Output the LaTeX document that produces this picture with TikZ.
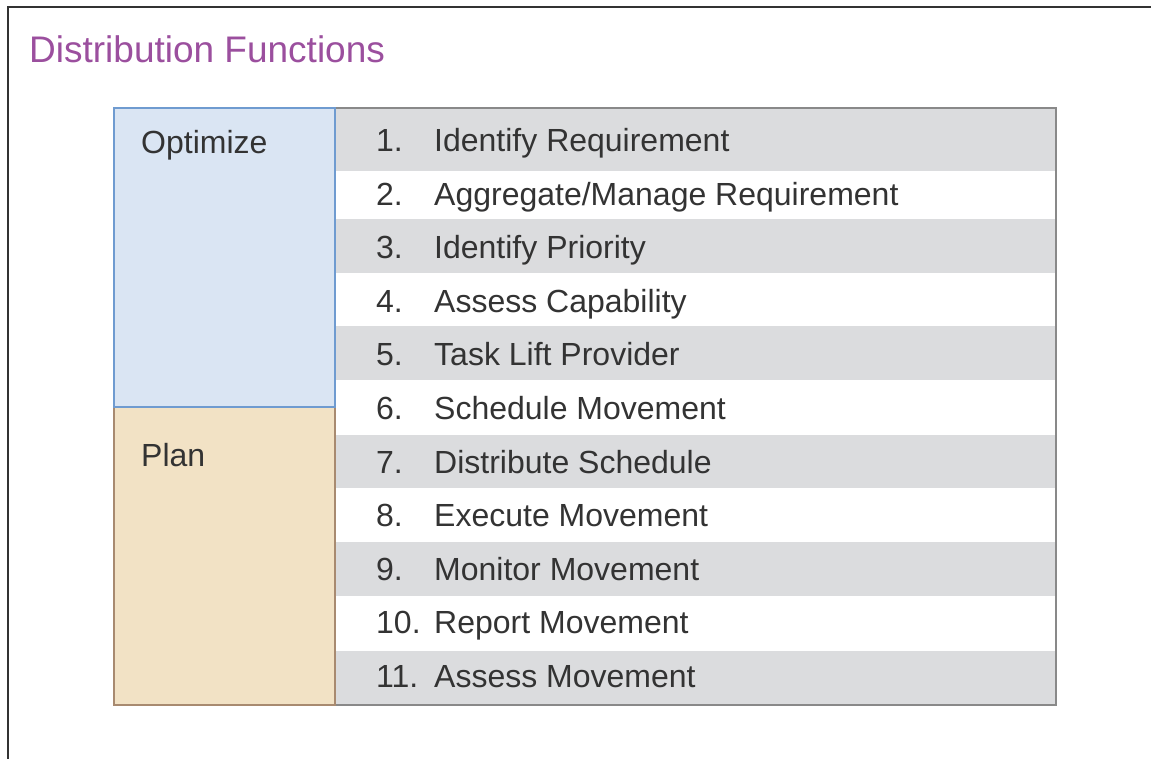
\documentclass[tikz,border=0pt]{standalone}
\usepackage{fontspec}
\setmainfont{Liberation Sans}

\definecolor{titlepurple}{RGB}{155,79,158}
\definecolor{textgray}{RGB}{51,51,51}
\definecolor{rowgray}{RGB}{219,220,222}
\definecolor{linegray}{RGB}{137,137,137}
\definecolor{optfill}{RGB}{218,229,243}
\definecolor{optline}{RGB}{111,155,208}
\definecolor{planfill}{RGB}{242,226,197}
\definecolor{planline}{RGB}{168,138,112}

\tikzset{
    rowtext/.style={anchor=base west, inner sep=0pt, text=textgray,
        font=\fontsize{32}{38}\selectfont},
    grayrow/.style={fill=rowgray, draw=none},
    phase/.style={anchor=base west, inner sep=0pt, text=textgray,
        font=\fontsize{32}{38}\selectfont}
}

\newcommand{\rownum}[1]{\makebox[58pt][l]{#1}}

\begin{document}
\begin{tikzpicture}[x=1pt,y=-1pt]
    \useasboundingbox (0,0) rectangle (1151,759);
    % frame
    \draw[textgray, line width=2.5pt] (8,759) -- (8,7) -- (1151,7);
    \node[anchor=base west, inner sep=0pt, text=titlepurple,
        font=\fontsize{37}{44}\selectfont] (title) at (29,63) {Distribution Functions};

    % shaded rows
    \fill[grayrow] (335,108) rectangle (1056,171);
    \fill[grayrow] (335,219) rectangle (1056,273);
    \fill[grayrow] (335,326) rectangle (1056,380);
    \fill[grayrow] (335,435) rectangle (1056,488);
    \fill[grayrow] (335,542) rectangle (1056,596);
    \fill[grayrow] (335,651) rectangle (1056,705);
    \draw[linegray, line width=2pt] (335,108) -- (1056,108) -- (1056,705) -- (335,705);

    % phases
    \draw[fill=planfill, draw=planline, line width=1.5pt] (114,407) rectangle (335,705);
    \draw[fill=optfill, draw=optline, line width=1.5pt] (114,108) rectangle (335,407);
    \node[phase] (optimize) at (141,154) {Optimize};
    \node[phase] (plan) at (141,466) {Plan};

    % functions
    \node[rowtext] (r1) at (376,151.5) {\rownum{1.}Identify Requirement};
    \node[rowtext] (r2) at (376,205.1) {\rownum{2.}Aggregate/Manage Requirement};
    \node[rowtext] (r3) at (376,258.7) {\rownum{3.}Identify Priority};
    \node[rowtext] (r4) at (376,312.3) {\rownum{4.}Assess Capability};
    \node[rowtext] (r5) at (376,365.9) {\rownum{5.}Task Lift Provider};
    \node[rowtext] (r6) at (376,419.5) {\rownum{6.}Schedule Movement};
    \node[rowtext] (r7) at (376,473.1) {\rownum{7.}Distribute Schedule};
    \node[rowtext] (r8) at (376,526.7) {\rownum{8.}Execute Movement};
    \node[rowtext] (r9) at (376,580.3) {\rownum{9.}Monitor Movement};
    \node[rowtext] (r10) at (376,633.9) {\rownum{10.}Report Movement};
    \node[rowtext] (r11) at (376,687.5) {\rownum{11.}Assess Movement};
\end{tikzpicture}
\end{document}
